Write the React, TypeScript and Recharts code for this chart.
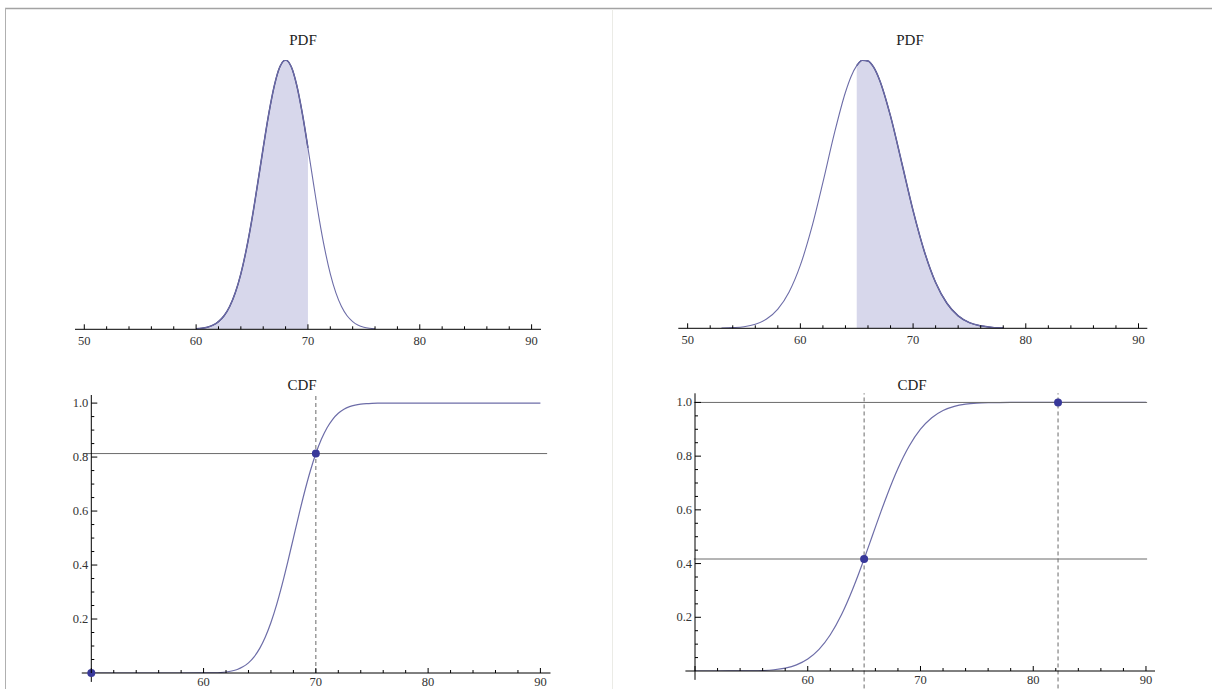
import React from 'react';
import { ComposedChart, Line, Area, XAxis, YAxis, ReferenceLine, ReferenceDot } from 'recharts';

const FONT = '"Liberation Serif", "Times New Roman", serif';
const CURVE = '#6d6da8';
const EDGE = '#42427f';
const FILL = '#d7d7eb';
const DOT = '#38389a';
const GUIDE = '#6a6a6a';

// shared ticks: minor every 2, labelled every 10
const xTicks = [50, 52, 54, 56, 58, 60, 62, 64, 66, 68, 70, 72, 74, 76, 78, 80, 82, 84, 86, 88, 90];
const yTicks = [0.05, 0.1, 0.15, 0.2, 0.25, 0.3, 0.35, 0.4, 0.45, 0.5, 0.55, 0.6, 0.65, 0.7, 0.75, 0.8, 0.85, 0.9, 0.95, 1.0];

// left distribution
const leftX = [60, 60.5, 61, 61.5, 62, 62.5, 63, 63.5, 64, 64.5, 65, 65.5, 66, 66.5, 67, 67.5, 68, 68.5, 69, 69.5, 70, 70.5, 71, 71.5, 72, 72.5, 73, 73.5, 74, 74.5, 75, 75.5, 76];
const leftPdf = [0.0003, 0.0007, 0.0014, 0.0027, 0.0051, 0.0089, 0.015, 0.024, 0.0365, 0.0529, 0.0729, 0.0957, 0.1195, 0.142, 0.1606, 0.173, 0.1773, 0.173, 0.1606, 0.142, 0.1195, 0.0957, 0.0729, 0.0529, 0.0365, 0.024, 0.015, 0.0089, 0.0051, 0.0027, 0.0014, 0.0007, 0.0003];
const leftCdfX = [50, 54, 58, 60, 60.5, 61, 61.5, 62, 62.5, 63, 63.5, 64, 64.5, 65, 65.5, 66, 66.5, 67, 67.5, 68, 68.5, 69, 69.5, 70, 70.5, 71, 71.5, 72, 72.5, 73, 73.5, 74, 74.5, 75, 75.5, 76, 78, 84, 90];
const leftCdf = [0, 0, 0, 0.0002, 0.0004, 0.0009, 0.0019, 0.0038, 0.0073, 0.0131, 0.0228, 0.0377, 0.0599, 0.0912, 0.1333, 0.187, 0.2525, 0.3284, 0.4121, 0.5, 0.5879, 0.6716, 0.7475, 0.813, 0.8667, 0.9088, 0.9401, 0.9623, 0.9772, 0.9869, 0.9927, 0.9962, 0.9981, 0.9991, 0.9996, 0.9998, 1, 1, 1];
const leftCut = 70;
const leftCutProb = 0.813;
const leftStart = 50;

// right distribution
const rightX = [53, 54, 55, 56, 57, 58, 59, 60, 61, 62, 63, 64, 64.5, 65, 65.5, 66, 66.5, 67, 68, 69, 70, 71, 72, 73, 74, 75, 76, 77, 78];
const rightPdf = [0.0001, 0.0003, 0.0007, 0.0018, 0.0041, 0.0085, 0.0161, 0.028, 0.0445, 0.0647, 0.0861, 0.1047, 0.1117, 0.1165, 0.1189, 0.1186, 0.1158, 0.1105, 0.0941, 0.0733, 0.0522, 0.0341, 0.0203, 0.0111, 0.0055, 0.0025, 0.0011, 0.0004, 0.0001];
const rightCdfX = [50, 52, 53, 54, 55, 56, 57, 58, 59, 60, 61, 62, 63, 64, 64.5, 65, 65.5, 66, 66.5, 67, 68, 69, 70, 71, 72, 73, 74, 75, 76, 77, 78, 80, 85, 90];
const rightCdf = [0, 0, 0.0001, 0.0002, 0.0007, 0.0019, 0.0047, 0.0108, 0.0228, 0.0445, 0.0803, 0.1348, 0.2101, 0.3061, 0.3602, 0.4172, 0.4762, 0.5357, 0.5944, 0.651, 0.754, 0.8377, 0.9004, 0.9432, 0.97, 0.9853, 0.9934, 0.9973, 0.999, 0.9996, 0.9999, 1, 1, 1];
const rightCuts = [65, 82.2];
const rightCutProbs = [0.417, 1.0];

const XTick = (props: any) => {
  const { x, y, payload, skipFirst, labelDy } = props;
  const v = payload.value;
  const major = v % 10 === 0;
  const showLabel = major && !(skipFirst && v === 50);
  return (
    <g>
      <line x1={x} x2={x} y1={y} y2={y - (major ? 5 : 3)} stroke="#000" strokeWidth={1} />
      {showLabel && (
        <text x={x} y={y + labelDy} textAnchor="middle" fontSize={12.5} fontFamily={FONT} fill="#333">
          {v}
        </text>
      )}
    </g>
  );
};

const YTick = (props: any) => {
  const { x, y, payload } = props;
  const v = payload.value;
  const major = Math.abs(v * 5 - Math.round(v * 5)) < 1e-6;
  return (
    <g>
      <line x1={x} x2={x + (major ? 6 : 3)} y1={y} y2={y} stroke="#000" strokeWidth={1} />
      {major && (
        <text x={x - 3} y={y + 4} textAnchor="end" fontSize={12.5} fontFamily={FONT} fill="#333">
          {v.toFixed(1)}
        </text>
      )}
    </g>
  );
};

const PdfPanel = ({ xs, ys, lo, hi, box, margin, xDomain, yMax }: any) => {
  const data = xs.map((x: number, i: number) => ({ x, pdf: ys[i], shade: x >= lo && x <= hi ? ys[i] : null }));
  return (
    <div style={{ position: 'absolute', left: box.left, top: box.top }}>
      <ComposedChart width={box.width} height={box.height} data={data} margin={margin}>
        <YAxis hide domain={[0, yMax]} allowDataOverflow />
        <Line dataKey="pdf" type="monotone" stroke={CURVE} strokeWidth={1.1} dot={false} activeDot={false} isAnimationActive={false} />
        <Area dataKey="shade" type="monotone" fill={FILL} fillOpacity={1} stroke={EDGE} strokeWidth={1.5} dot={false} activeDot={false} isAnimationActive={false} />
        <XAxis dataKey="x" type="number" domain={xDomain} allowDataOverflow ticks={xTicks} interval={0}
          tick={(p: any) => <XTick {...p} labelDy={16} />} tickLine={false} tickSize={0} tickMargin={0} height={25}
          axisLine={{ stroke: '#000', strokeWidth: 1 }} />
      </ComposedChart>
    </div>
  );
};

const CdfPanel = ({ xs, ys, box, margin, xDomain, yTop, children }: any) => {
  const data = xs.map((x: number, i: number) => ({ x, cdf: ys[i] }));
  return (
    <div style={{ position: 'absolute', left: box.left, top: box.top }}>
      <ComposedChart width={box.width} height={box.height} data={data} margin={margin}>
        <XAxis dataKey="x" type="number" domain={xDomain} allowDataOverflow ticks={xTicks} interval={0}
          tick={(p: any) => <XTick {...p} skipFirst labelDy={13} />} tickLine={false} tickSize={0} tickMargin={0} height={16}
          axisLine={{ stroke: '#000', strokeWidth: 1 }} />
        <YAxis type="number" domain={[0, yTop]} allowDataOverflow ticks={yTicks} interval={0} width={40}
          tick={(p: any) => <YTick {...p} />} tickLine={false} tickSize={0} tickMargin={0}
          axisLine={{ stroke: '#000', strokeWidth: 1 }} />
        <ReferenceLine segment={[{ x: 49.15, y: 0 }, { x: 50, y: 0 }]} stroke="#000" ifOverflow="visible" />
        <ReferenceLine segment={[{ x: 50, y: -0.033 }, { x: 50, y: 0 }]} stroke="#000" ifOverflow="visible" />
        <Line dataKey="cdf" type="monotone" stroke={CURVE} strokeWidth={1.2} dot={false} activeDot={false} isAnimationActive={false} />
        {children}
      </ComposedChart>
    </div>
  );
};

export default function App() {
  return (
    <div style={{ position: 'absolute', left: 0, top: 0, width: 1212, height: 689, background: '#fff', overflow: 'hidden' }}>
      <svg width={1212} height={689} style={{ position: 'absolute', left: 0, top: 0 }}>
        <line x1={5} x2={1212} y1={8.5} y2={8.5} stroke="#a3a3a3" strokeWidth={1.5} />
        <line x1={5.5} x2={5.5} y1={8} y2={689} stroke="#b0b0b0" strokeWidth={1} />
        <line x1={612.5} x2={612.5} y1={9} y2={689} stroke="#ebebe6" strokeWidth={1} />
        <text x={303} y={45} textAnchor="middle" fontSize={15} fontFamily={FONT} fill="#222">PDF</text>
        <text x={910} y={45} textAnchor="middle" fontSize={15} fontFamily={FONT} fill="#222">PDF</text>
        <text x={302} y={390} textAnchor="middle" fontSize={15} fontFamily={FONT} fill="#222">CDF</text>
        <text x={912} y={390} textAnchor="middle" fontSize={15} fontFamily={FONT} fill="#222">CDF</text>
      </svg>

      <PdfPanel xs={leftX} ys={leftPdf} lo={0} hi={leftCut}
        box={{ left: 0, top: 0, width: 606, height: 360 }}
        margin={{ top: 60, left: 75, right: 65, bottom: 5.7 }}
        xDomain={[49.17, 90.84]} yMax={0.1773} />

      <PdfPanel xs={rightX} ys={rightPdf} lo={rightCuts[0]} hi={100}
        box={{ left: 606, top: 0, width: 606, height: 360 }}
        margin={{ top: 60, left: 72.3, right: 64.7, bottom: 6.7 }}
        xDomain={[49.17, 90.78]} yMax={0.119} />

      <CdfPanel xs={leftCdfX} ys={leftCdf}
        box={{ left: 0, top: 360, width: 606, height: 340 }}
        margin={{ top: 35, left: 51.3, right: 55.5, bottom: 11 }}
        xDomain={[50, 90.9]} yTop={1.03}>
        <ReferenceLine segment={[{ x: 49.25, y: leftCutProb }, { x: 90.6, y: leftCutProb }]} stroke={GUIDE} ifOverflow="visible" />
        <ReferenceLine segment={[{ x: leftCut, y: 0 }, { x: leftCut, y: 1.03 }]} stroke={GUIDE} strokeDasharray="4 3" ifOverflow="visible" />
        <ReferenceDot x={leftCut} y={leftCutProb} r={4} fill={DOT} stroke="none" ifOverflow="visible" />
        <ReferenceDot x={leftStart} y={0} r={4} fill={DOT} stroke="none" ifOverflow="visible" />
      </CdfPanel>

      <CdfPanel xs={rightCdfX} ys={rightCdf}
        box={{ left: 606, top: 360, width: 606, height: 340 }}
        margin={{ top: 33.3, left: 49, right: 57, bottom: 13 }}
        xDomain={[50, 90.8]} yTop={1.034}>
        {rightCutProbs.map((p, i) => (
          <ReferenceLine key={`h${i}`} segment={[{ x: 49.9, y: p }, { x: 90.1, y: p }]} stroke={GUIDE} ifOverflow="visible" />
        ))}
        {rightCuts.map((c, i) => (
          <ReferenceLine key={`v${i}`} segment={[{ x: c, y: -0.065 }, { x: c, y: 1.034 }]} stroke={GUIDE} strokeDasharray="4 3" ifOverflow="visible" />
        ))}
        {rightCuts.map((c, i) => (
          <ReferenceDot key={`d${i}`} x={c} y={rightCutProbs[i]} r={4} fill={DOT} stroke="none" ifOverflow="visible" />
        ))}
      </CdfPanel>
    </div>
  );
}
